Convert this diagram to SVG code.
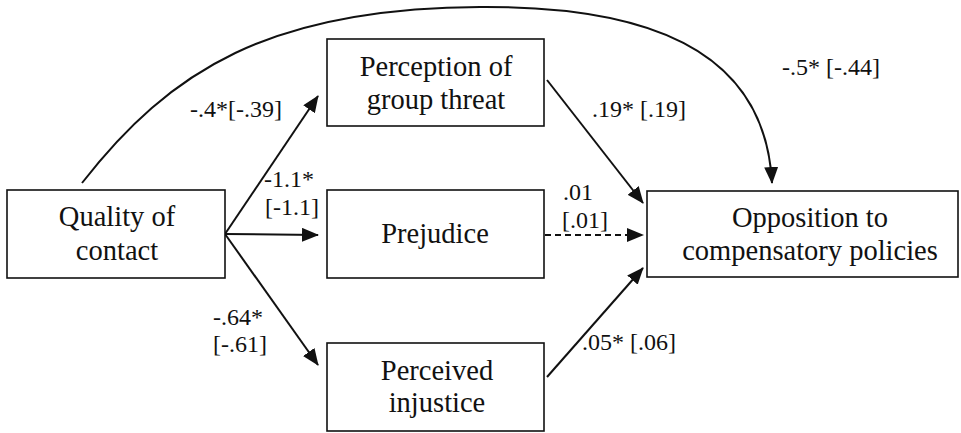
<svg xmlns="http://www.w3.org/2000/svg" width="961" height="433" viewBox="0 0 961 433">
<style>
.box{fill:#fff;stroke:#111;stroke-width:1.6}
.node{font-family:"Liberation Serif","Times New Roman",serif;font-size:28.5px;fill:#111;text-anchor:middle}
.lbl{font-family:"Liberation Serif","Times New Roman",serif;font-size:24px;fill:#111}
.edge{fill:none;stroke:#111;stroke-width:2;marker-end:url(#ah)}
.dash{stroke-dasharray:6 4}
</style>
<defs>
<marker id="ah" markerUnits="userSpaceOnUse" markerWidth="18" markerHeight="14" refX="16" refY="7" orient="auto">
<path d="M0,0 L17,7 L0,14 Z" fill="#111"/>
</marker>
</defs>
<rect width="961" height="433" fill="#fff"/>
<g id="connectors">
<path class="edge" d="M82,183 C170,70 270,8 480,7 C640,6 765,45 772,183"/>
<path class="edge" d="M225,234 L318,96"/>
<path class="edge" d="M225,234 L318,235"/>
<path class="edge" d="M225,234 L318,365"/>
<path class="edge" d="M547,80 L643,203"/>
<path class="edge dash" d="M545,235 L643,235"/>
<path class="edge" d="M547,377 L643,268"/>
</g>
<g id="quality">
<rect class="box" x="7" y="190" width="218" height="88"/>
<text class="node" x="117" y="226">Quality of</text>
<text class="node" x="117" y="260">contact</text>
</g>
<g id="threat">
<rect class="box" x="327" y="39" width="217" height="87"/>
<text class="node" x="436" y="76">Perception of</text>
<text class="node" x="436" y="109">group threat</text>
</g>
<g id="prejudice">
<rect class="box" x="327" y="190" width="217" height="88"/>
<text class="node" x="435" y="243">Prejudice</text>
</g>
<g id="injustice">
<rect class="box" x="327" y="343" width="217" height="88"/>
<text class="node" x="437" y="380">Perceived</text>
<text class="node" x="437" y="412">injustice</text>
</g>
<g id="opposition">
<rect class="box" x="647" y="191" width="311" height="86"/>
<text class="node" x="810" y="227">Opposition to</text>
<text class="node" x="810" y="260">compensatory policies</text>
</g>
<g id="labels">
<text class="lbl" x="190" y="117">-.4*[-.39]</text>
<text class="lbl" x="264" y="187">-1.1*</text>
<text class="lbl" x="265" y="215">[-1.1]</text>
<text class="lbl" x="213" y="325">-.64*</text>
<text class="lbl" x="213" y="352">[-.61]</text>
<text class="lbl" x="592" y="117">.19* [.19]</text>
<text class="lbl" x="782" y="75">-.5* [-.44]</text>
<text class="lbl" x="563" y="200">.01</text>
<text class="lbl" x="562" y="228">[.01]</text>
<text class="lbl" x="582" y="350">.05* [.06]</text>
</g>
</svg>
